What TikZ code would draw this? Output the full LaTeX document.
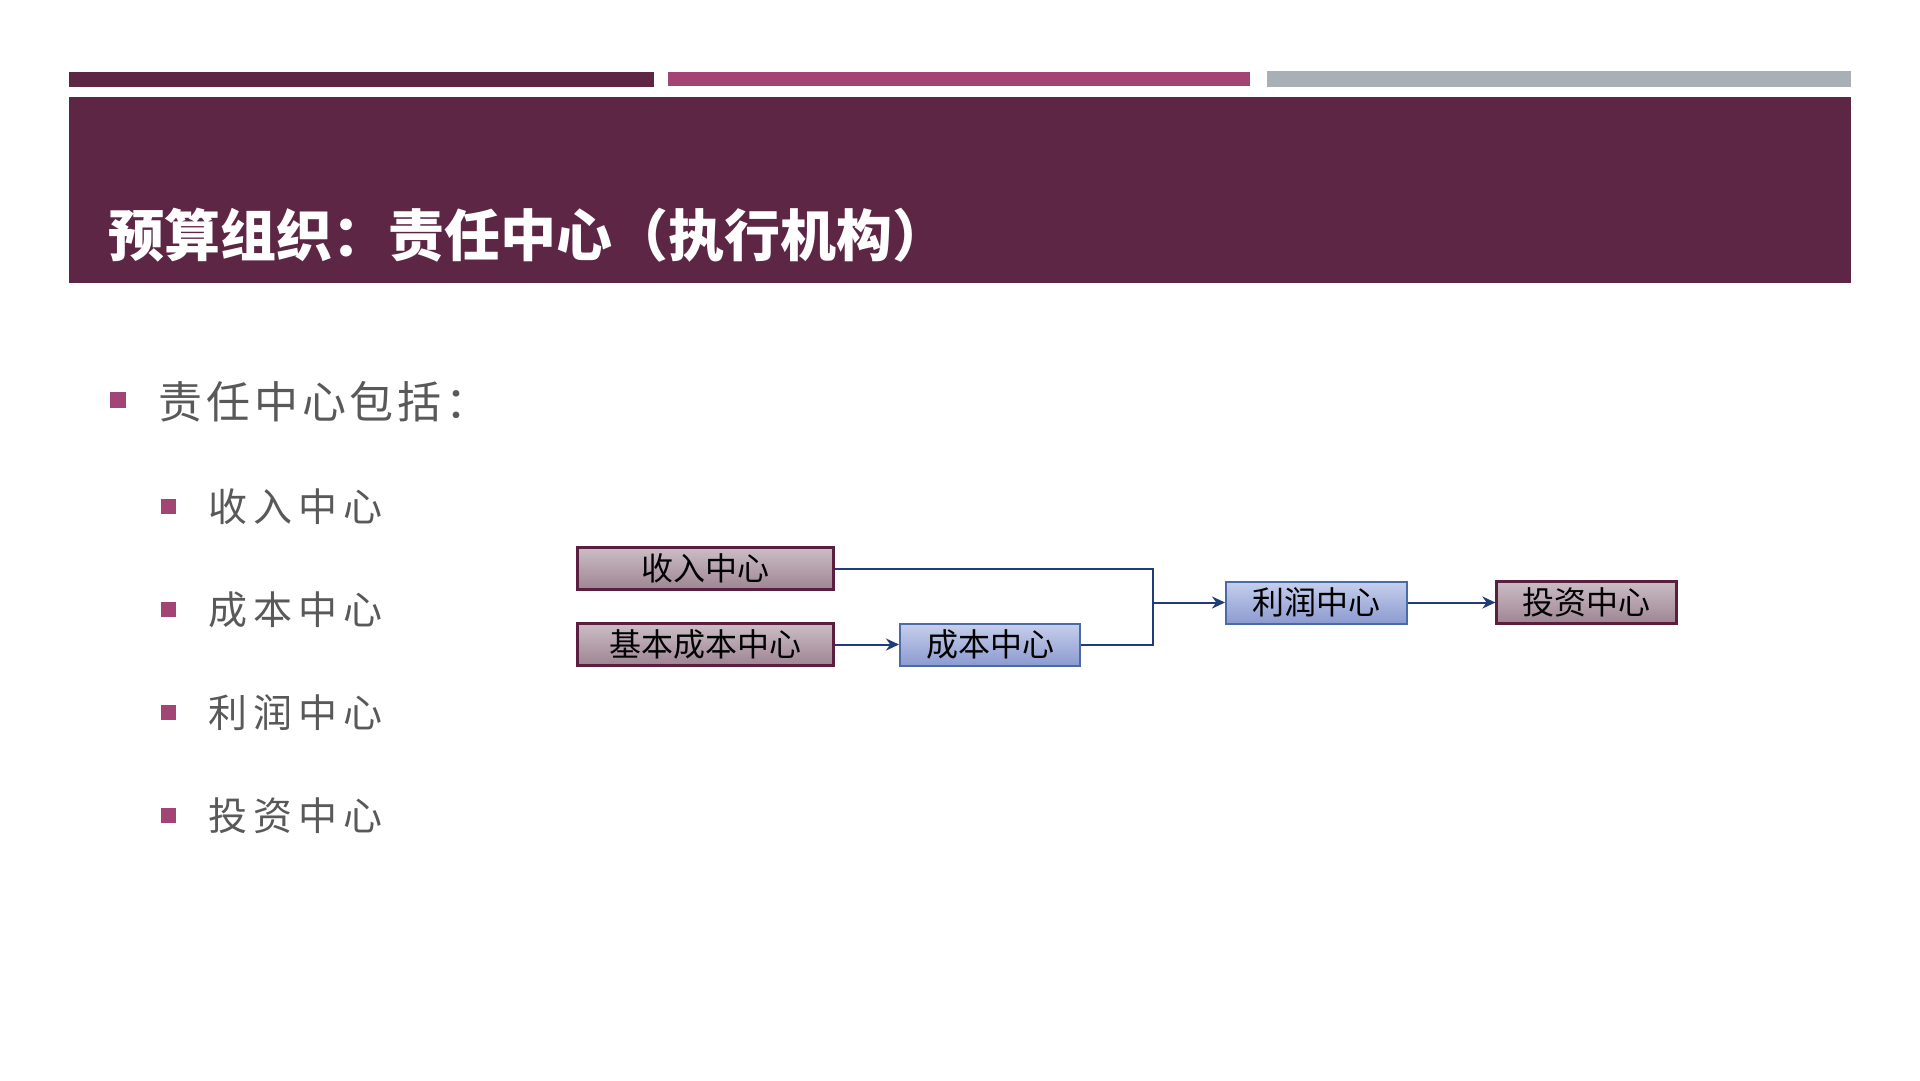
\documentclass[tikz,border=0pt]{standalone}
\usepackage{fontspec}
\usetikzlibrary{arrows.meta}
\newfontfamily\cjk{Noto Sans CJK SC}
\newfontfamily\cjktop[LetterSpace=9]{Noto Sans CJK SC}
\newfontfamily\cjksub[LetterSpace=16]{Noto Sans CJK SC}
\definecolor{plum}{HTML}{5E2645}
\definecolor{rose}{HTML}{A24474}
\definecolor{steel}{HTML}{A9AFB6}
\definecolor{bodygray}{HTML}{595959}
\definecolor{navy}{HTML}{1F3B7A}
\definecolor{mauvetop}{HTML}{CBBDC5}
\definecolor{mauvebot}{HTML}{9E8593}
\definecolor{mauveline}{HTML}{5A1F3F}
\definecolor{bluetop}{HTML}{C6CFEC}
\definecolor{bluebot}{HTML}{8C9BD0}
\definecolor{blueline}{HTML}{4B6BA6}
\tikzset{
  mauvebox/.style={draw=mauveline, line width=2.2pt, top color=mauvetop, bottom color=mauvebot,
    minimum height=42pt, inner sep=0pt, font=\cjk\fontsize{32}{35}\selectfont, text=black},
  bluebox/.style={draw=blueline, line width=2pt, top color=bluetop, bottom color=bluebot,
    minimum height=42pt, inner sep=0pt, font=\cjk\fontsize{32}{35}\selectfont, text=black},
  link/.style={draw=navy, line width=2pt},
  linkarrow/.style={link, -{Stealth[length=13pt, width=12pt]}},
  bulletsq/.style={fill=rose, minimum size=#1, inner sep=0pt},
  toptext/.style={anchor=base west, inner sep=0pt, text=bodygray, font=\cjktop\fontsize{44}{48}\selectfont},
  subtext/.style={anchor=base west, inner sep=0pt, text=bodygray, font=\cjksub\fontsize{39}{44}\selectfont},
}
\begin{document}
\begin{tikzpicture}[x=1pt, y=-1pt]
  \useasboundingbox (0,0) rectangle (1920,1080);
  \fill[white] (0,0) rectangle (1920,1080);

  % header strips and title band
  \fill[plum]  (69,72)   rectangle (654,87);
  \fill[rose]  (668,72)  rectangle (1250,86);
  \fill[steel] (1267,71) rectangle (1851,87);
  \fill[plum]  (69,97)   rectangle (1851,283);
  \node[anchor=base west, inner sep=0pt, text=white, font=\cjk\bfseries\fontsize{56}{62}\selectfont]
    (title) at (108,256) {预算组织：责任中心（执行机构）};

  % bullet list
  \node[bulletsq=16pt] (b0) at (118,400) {};
  \node[toptext] (t0) at (158,418) {责任中心包括：};
  \node[bulletsq=15pt] (b1) at (168.5,506) {};
  \node[subtext] (t1) at (208,521) {收入中心};
  \node[bulletsq=15pt] (b2) at (168.5,609) {};
  \node[subtext] (t2) at (208,624) {成本中心};
  \node[bulletsq=15pt] (b3) at (168.5,712) {};
  \node[subtext] (t3) at (208,727) {利润中心};
  \node[bulletsq=15pt] (b4) at (168.5,815) {};
  \node[subtext] (t4) at (208,830) {投资中心};

  % responsibility-centre chart
  \node[mauvebox, minimum width=256pt] (rev)    at (705.5,568.5) {收入中心};
  \node[mauvebox, minimum width=256pt] (basic)  at (705.5,644.5) {基本成本中心};
  \node[bluebox,  minimum width=180pt] (cost)   at (990,644.5)   {成本中心};
  \node[bluebox,  minimum width=181pt] (profit) at (1316.5,602.5) {利润中心};
  \node[mauvebox, minimum width=180pt] (invest) at (1586.5,602.5) {投资中心};
  \coordinate (join) at (1153,602.5);

  \draw[linkarrow] (basic.east) -- (cost.west);
  \draw[link] (rev.east) -| (join);
  \draw[link] (cost.east) -| (join);
  \draw[linkarrow] (join) -- (profit.west);
  \draw[linkarrow] (profit.east) -- (invest.west);
\end{tikzpicture}
\end{document}
